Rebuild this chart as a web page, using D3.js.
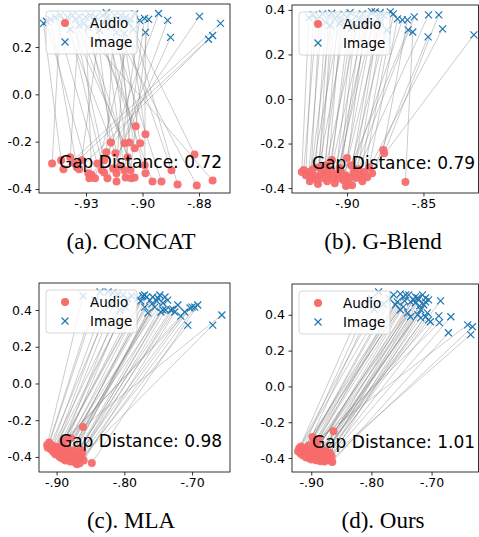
<!DOCTYPE html>
<html>
<head>
<meta charset="utf-8">
<script src="https://cdn.jsdelivr.net/npm/d3@7"></script>
<style>
  body { margin: 0; background: #fff; }
  svg { display: block; }
</style>
</head>
<body>
<div id="wrapper"></div>
<script>
// ---- data ----
const concatAudio = [
  [-0.940,-0.292],[-0.936,-0.279],[-0.935,-0.317],[-0.932,-0.266],[-0.930,-0.292],
  [-0.929,-0.309],[-0.928,-0.317],[-0.927,-0.279],[-0.924,-0.334],[-0.9235,-0.355],
  [-0.9225,-0.340],[-0.921,-0.355],[-0.920,-0.292],[-0.918,-0.321],[-0.917,-0.330],
  [-0.916,-0.245],[-0.9155,-0.355],[-0.917,-0.279],[-0.914,-0.203],[-0.913,-0.313],
  [-0.912,-0.249],[-0.9115,-0.334],[-0.9115,-0.368],[-0.910,-0.304],[-0.908,-0.207],
  [-0.908,-0.321],[-0.9075,-0.351],[-0.9066,-0.266],[-0.9058,-0.203],[-0.9053,-0.321],
  [-0.905,-0.355],[-0.9035,-0.351],[-0.9035,-0.228],[-0.903,-0.135],[-0.901,-0.207],
  [-0.899,-0.300],[-0.8987,-0.334],[-0.8987,-0.169],[-0.8956,-0.368],[-0.8916,-0.368],
  [-0.8872,-0.321],[-0.8845,-0.381],[-0.877,-0.254],[-0.876,-0.385],[-0.869,-0.364]
]
// same order as concatAudio (pair i <-> i)
const concatImage = [
  [-0.9363,0.334],[-0.9438,0.300],[-0.8655,0.300],[-0.9279,0.330],[-0.869,0.249],
  [-0.9407,0.317],[-0.8708,0.233],[-0.919,0.271],[-0.9425,0.309],[-0.8748,0.330],
  [-0.9252,0.326],[-0.9035,0.340],[-0.9385,0.326],[-0.8929,0.342],[-0.9319,0.275],
  [-0.9124,0.334],[-0.8876,0.241],[-0.931,0.334],[-0.9208,0.326],[-0.8889,0.313],
  [-0.9345,0.313],[-0.9075,0.326],[-0.9013,0.313],[-0.924,0.283],[-0.9332,0.326],
  [-0.8991,0.321],[-0.9177,0.334],[-0.9296,0.317],[-0.910,0.317],[-0.8973,0.317],
  [-0.9155,0.326],[-0.926,0.300],[-0.9115,0.262],[-0.923,0.334],[-0.9097,0.334],
  [-0.8987,0.262],[-0.917,0.305],[-0.906,0.300],[-0.9215,0.313],[-0.914,0.288],
  [-0.908,0.258],[-0.9053,0.317],[-0.904,0.275],[-0.916,0.345],[-0.928,0.292]
]

const gBlendAudio = [
  [-0.9296,-0.328],[-0.9283,-0.319],[-0.927,-0.342],[-0.925,-0.328],[-0.9243,-0.369],
  [-0.9237,-0.351],[-0.9224,-0.315],[-0.921,-0.346],[-0.9197,-0.364],[-0.919,-0.382],
  [-0.9184,-0.306],[-0.917,-0.337],[-0.9158,-0.355],[-0.9145,-0.328],[-0.9138,-0.297],
  [-0.913,-0.369],[-0.912,-0.342],[-0.9105,-0.319],[-0.9099,-0.274],[-0.909,-0.355],
  [-0.908,-0.378],[-0.9066,-0.337],[-0.905,-0.355],[-0.9046,-0.310],[-0.904,-0.324],
  [-0.9026,-0.364],[-0.901,-0.342],[-0.9007,-0.391],[-0.900,-0.265],[-0.8993,-0.378],
  [-0.898,-0.351],[-0.8974,-0.297],[-0.8967,-0.387],[-0.8954,-0.328],[-0.894,-0.355],
  [-0.8928,-0.315],[-0.8914,-0.342],[-0.890,-0.369],[-0.8888,-0.328],[-0.8868,-0.351],
  [-0.8855,-0.306],[-0.8836,-0.333],[-0.8763,-0.229],[-0.8757,-0.243],[-0.8618,-0.373]
]
const gBlendImage = [
  [-0.925,0.365],[-0.922,0.378],[-0.920,0.355],[-0.918,0.370],[-0.916,0.382],
  [-0.914,0.345],[-0.912,0.372],[-0.911,0.330],[-0.910,0.385],[-0.908,0.360],
  [-0.906,0.375],[-0.905,0.340],[-0.904,0.350],[-0.902,0.380],[-0.900,0.365],
  [-0.898,0.388],[-0.897,0.320],[-0.896,0.340],[-0.894,0.372],[-0.892,0.360],
  [-0.890,0.382],[-0.889,0.330],[-0.888,0.350],[-0.886,0.370],[-0.884,0.392],
  [-0.883,0.335],[-0.8816,0.391],[-0.880,0.362],[-0.8783,0.387],[-0.878,0.345],
  [-0.876,0.375],[-0.874,0.310],[-0.8717,0.391],[-0.8697,0.382],[-0.867,0.360],
  [-0.8638,0.355],[-0.8605,0.355],[-0.860,0.310],[-0.857,0.301],[-0.856,0.369],
  [-0.847,0.279],[-0.8467,0.378],[-0.840,0.378],[-0.8375,0.315],[-0.817,0.288]
]

const mlaAudio = [
  [-0.914,-0.335],[-0.913,-0.350],[-0.911,-0.322],[-0.910,-0.345],[-0.908,-0.360],
  [-0.906,-0.338],[-0.905,-0.372],[-0.903,-0.355],[-0.902,-0.385],[-0.900,-0.345],
  [-0.899,-0.368],[-0.897,-0.392],[-0.896,-0.358],[-0.895,-0.402],[-0.893,-0.375],
  [-0.892,-0.340],[-0.891,-0.410],[-0.889,-0.385],[-0.888,-0.362],[-0.887,-0.420],
  [-0.885,-0.395],[-0.884,-0.350],[-0.883,-0.408],[-0.881,-0.378],[-0.880,-0.425],
  [-0.879,-0.298],[-0.878,-0.392],[-0.876,-0.410],[-0.875,-0.365],[-0.874,-0.428],
  [-0.872,-0.388],[-0.871,-0.405],[-0.869,-0.375],[-0.868,-0.418],[-0.867,-0.395],
  [-0.866,-0.435],[-0.865,-0.360],[-0.863,-0.400],[-0.862,-0.380],[-0.861,-0.237],
  [-0.860,-0.420],[-0.890,-0.315],[-0.885,-0.305],[-0.848,-0.433],[-0.870,-0.440]
]
const mlaImage = [
  [-0.861,0.476],[-0.8435,0.454],[-0.836,0.498],[-0.824,0.498],[-0.821,0.427],
  [-0.817,0.4925],[-0.8096,0.487],[-0.8066,0.400],[-0.802,0.4816],[-0.798,0.416],
  [-0.795,0.460],[-0.789,0.476],[-0.780,0.465],[-0.7757,0.449],[-0.7727,0.476],
  [-0.770,0.4816],[-0.770,0.416],[-0.767,0.471],[-0.7653,0.384],[-0.7624,0.454],
  [-0.7594,0.433],[-0.758,0.471],[-0.755,0.416],[-0.752,0.449],[-0.7506,0.465],
  [-0.7476,0.4816],[-0.746,0.389],[-0.743,0.438],[-0.743,0.400],[-0.740,0.471],
  [-0.739,0.400],[-0.736,0.454],[-0.7314,0.400],[-0.7285,0.405],[-0.7255,0.389],
  [-0.721,0.427],[-0.7167,0.367],[-0.711,0.389],[-0.7063,0.318],[-0.703,0.411],
  [-0.700,0.416],[-0.696,0.416],[-0.6916,0.427],[-0.6695,0.318],[-0.656,0.373]
]

const oursAudio = [
  [-0.922,-0.362],[-0.920,-0.345],[-0.918,-0.375],[-0.917,-0.335],[-0.915,-0.358],
  [-0.914,-0.385],[-0.912,-0.345],[-0.911,-0.370],[-0.909,-0.395],[-0.908,-0.352],
  [-0.906,-0.380],[-0.905,-0.400],[-0.904,-0.330],[-0.902,-0.365],[-0.901,-0.388],
  [-0.900,-0.408],[-0.898,-0.283],[-0.897,-0.350],[-0.896,-0.375],[-0.894,-0.398],
  [-0.893,-0.362],[-0.892,-0.412],[-0.890,-0.340],[-0.889,-0.385],[-0.888,-0.405],
  [-0.886,-0.368],[-0.885,-0.418],[-0.884,-0.392],[-0.882,-0.355],[-0.881,-0.408],
  [-0.880,-0.378],[-0.878,-0.420],[-0.877,-0.395],[-0.876,-0.360],[-0.875,-0.367],
  [-0.873,-0.410],[-0.872,-0.385],[-0.870,-0.400],[-0.869,-0.370],[-0.868,-0.415],
  [-0.866,-0.390],[-0.865,-0.422],[-0.863,-0.250],[-0.895,-0.310],[-0.887,-0.300]
]
const oursImage = [
  [-0.815,0.450],[-0.800,0.490],[-0.795,0.430],[-0.788,0.528],[-0.780,0.460],
  [-0.770,0.490],[-0.763,0.511],[-0.760,0.456],[-0.757,0.472],[-0.752,0.517],
  [-0.752,0.428],[-0.747,0.500],[-0.747,0.444],[-0.745,0.478],[-0.743,0.511],
  [-0.740,0.411],[-0.738,0.511],[-0.735,0.472],[-0.735,0.389],[-0.730,0.483],
  [-0.727,0.500],[-0.727,0.467],[-0.723,0.494],[-0.723,0.400],[-0.722,0.483],
  [-0.720,0.450],[-0.718,0.428],[-0.718,0.383],[-0.715,0.511],[-0.713,0.456],
  [-0.710,0.494],[-0.710,0.472],[-0.710,0.389],[-0.707,0.411],[-0.705,0.483],
  [-0.705,0.372],[-0.702,0.361],[-0.688,0.394],[-0.687,0.356],[-0.685,0.478],
  [-0.672,0.300],[-0.668,0.389],[-0.640,0.344],[-0.635,0.289],[-0.632,0.333]
]

// which image point each audio point is joined to (b, c, d)
const pairOrder = [0,2,1,4,7,3,11,5,9,6,14,8,13,10,19,12,16,21,15,24,17,26,18,23,20,
  29,22,32,25,35,27,37,28,39,30,41,31,43,33,44,34,40,36,42,38]

const gapValues = ["0.72", "0.79", "0.98", "1.01"]
const captions = ["(a). CONCAT", "(b). G-Blend", "(c). MLA", "(d). Ours"]
const legendLabels = ["Audio", "Image"]

const yTicksA = [-0.4, -0.2, 0.0, 0.2]
const yTicksB = [-0.4, -0.2, 0.0, 0.2, 0.4]
const yTickLabelsA = ["-0.4", "-0.2", "0.0", "0.2"]
const yTickLabelsB = ["-0.4", "-0.2", "0.0", "0.2", "0.4"]
const xTicksA = [-0.925, -0.9, -0.875]
const xTickLabelsA = ["-.93", "-.90", "-.88"]
const xTicksB = [-0.9, -0.85]
const xTickLabelsB = ["-.90", "-.85"]
const xTicksC = [-0.9, -0.8, -0.7]
const xTickLabelsC = ["-.90", "-.80", "-.70"]

// ---- layout ----
const panels = [
  { audio: concatAudio, image: concatImage, links: null,
    xDomain: [-0.9458, -0.8613], yDomain: [-0.417, 0.382],
    xTicks: xTicksA, xLabels: xTickLabelsA, yTicks: yTicksA, yLabels: yTickLabelsA,
    left: 39, top: 4, width: 191, height: 189, capX: 131, capY: 249 },
  { audio: gBlendAudio, image: gBlendImage, links: pairOrder,
    xDomain: [-0.936, -0.814], yDomain: [-0.422, 0.422],
    xTicks: xTicksB, xLabels: xTickLabelsB, yTicks: yTicksB, yLabels: yTickLabelsB,
    left: 292, top: 5, width: 186.5, height: 188, capX: 383, capY: 249 },
  { audio: mlaAudio, image: mlaImage, links: pairOrder,
    xDomain: [-0.926, -0.644], yDomain: [-0.482, 0.547],
    xTicks: xTicksC, xLabels: xTickLabelsC, yTicks: yTicksB, yLabels: yTickLabelsB,
    left: 39, top: 283, width: 191, height: 189, capX: 131, capY: 528 },
  { audio: oursAudio, image: oursImage, links: pairOrder,
    xDomain: [-0.932, -0.622], yDomain: [-0.478, 0.572],
    xTicks: xTicksC, xLabels: xTickLabelsC, yTicks: yTicksB, yLabels: yTickLabelsB,
    left: 292, top: 284, width: 186.5, height: 188, capX: 383, capY: 528 },
]

const audioColor = "#f76c6c"
const imageColor = "#1f77b4"
const tickFont = "'DejaVu Sans', sans-serif"

const svg = d3.select("#wrapper")
  .append("svg")
  .attr("width", 479)
  .attr("height", 537)

const crossPath = "M-3.5,-3.5L3.5,3.5M-3.5,3.5L3.5,-3.5"

panels.forEach((p, k) => {
  const xScale = d3.scaleLinear().domain(p.xDomain).range([0, p.width])
  const yScale = d3.scaleLinear().domain(p.yDomain).range([p.height, 0])

  const g = svg.append("g")
    .attr("transform", `translate(${p.left},${p.top})`)

  const clipId = "clip" + k
  g.append("clipPath").attr("id", clipId)
    .append("rect").attr("width", p.width).attr("height", p.height)

  const plot = g.append("g").attr("clip-path", `url(#${clipId})`)

  const pairs = p.audio.map((a, i) => [a, p.image[p.links ? p.links[i] : i]])

  plot.selectAll("line.link")
    .data(pairs)
    .join("line")
    .attr("class", "link")
    .attr("x1", d => xScale(d[0][0]))
    .attr("y1", d => yScale(d[0][1]))
    .attr("x2", d => xScale(d[1][0]))
    .attr("y2", d => yScale(d[1][1]))
    .attr("stroke", "#808080")
    .attr("stroke-opacity", 0.5)
    .attr("stroke-width", 0.8)

  plot.selectAll("circle.audio")
    .data(p.audio)
    .join("circle")
    .attr("class", "audio")
    .attr("cx", d => xScale(d[0]))
    .attr("cy", d => yScale(d[1]))
    .attr("r", 4)
    .attr("fill", audioColor)
    .attr("fill-opacity", 0.95)

  plot.selectAll("path.image")
    .data(p.image)
    .join("path")
    .attr("class", "image")
    .attr("d", crossPath)
    .attr("transform", d => `translate(${xScale(d[0])},${yScale(d[1])})`)
    .attr("stroke", imageColor)
    .attr("stroke-width", 1.2)
    .attr("fill", "none")

  // axes
  const xAxis = g.append("g")
    .attr("transform", `translate(0,${p.height})`)
    .call(d3.axisBottom(xScale)
      .tickValues(p.xTicks)
      .tickFormat((d, i) => p.xLabels[i])
      .tickSize(3.5).tickPadding(2.5))
  const yAxis = g.append("g")
    .call(d3.axisLeft(yScale)
      .tickValues(p.yTicks)
      .tickFormat((d, i) => p.yLabels[i])
      .tickSize(3.5).tickPadding(3.5))

  ;[xAxis, yAxis].forEach(ax => {
    ax.select(".domain").remove()
    ax.selectAll("line").attr("stroke", "#000").attr("stroke-width", 0.8)
    ax.selectAll("text")
      .attr("fill", "#000")
      .style("font-family", tickFont)
      .style("font-size", "12.5px")
  })

  g.append("rect")
    .attr("width", p.width)
    .attr("height", p.height)
    .attr("fill", "none")
    .attr("stroke", "#000")
    .attr("stroke-width", 0.8)

  // legend
  const lg = g.append("g").attr("transform", "translate(7,7)")
  lg.append("rect")
    .attr("width", 91).attr("height", 43)
    .attr("rx", 3)
    .attr("fill", "#fff").attr("fill-opacity", 0.8)
    .attr("stroke", "#cccccc").attr("stroke-width", 0.8)
  lg.append("circle")
    .attr("cx", 19).attr("cy", 12).attr("r", 4)
    .attr("fill", audioColor)
  lg.append("path")
    .attr("d", crossPath)
    .attr("transform", "translate(19,31)")
    .attr("stroke", imageColor).attr("stroke-width", 1.2)
  lg.selectAll("text")
    .data(legendLabels)
    .join("text")
    .attr("x", 44)
    .attr("y", (d, i) => 17 + i * 19)
    .style("font-family", tickFont)
    .style("font-size", "13.5px")
    .text(d => d)

  // gap text
  g.append("text")
    .attr("x", 20)
    .attr("y", 164)
    .style("font-family", tickFont)
    .style("font-size", "17px")
    .text("Gap Distance: " + gapValues[k])

  // caption
  svg.append("text")
    .attr("x", p.capX)
    .attr("y", p.capY)
    .attr("text-anchor", "middle")
    .style("font-family", "'Liberation Serif', 'Times New Roman', serif")
    .style("font-size", "23px")
    .text(captions[k])
})
</script>
</body>
</html>
